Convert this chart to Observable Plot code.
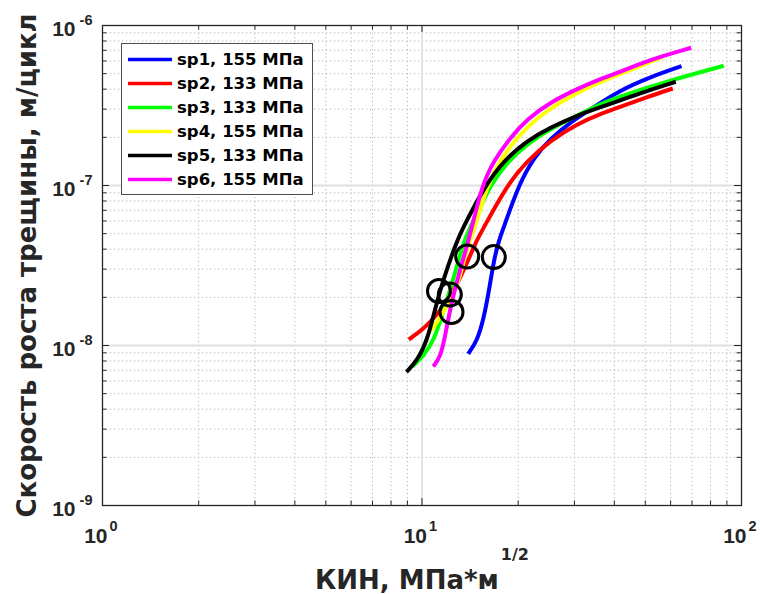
<!DOCTYPE html>
<html>
<head>
<meta charset="utf-8">
<script src="https://cdn.jsdelivr.net/npm/d3@7"></script>
<script src="https://cdn.jsdelivr.net/npm/@observablehq/plot@0.6"></script>
<style>
  body { margin: 0; background: #fff; }
  svg { display: block; }
</style>
</head>
<body>
<div id="chart"></div>
<script>
// Fatigue crack growth rate da/dN vs stress intensity factor range (log-log)
const seriesNames = ["sp1, 155 МПа", "sp2, 133 МПа", "sp3, 133 МПа", "sp4, 155 МПа", "sp5, 133 МПа", "sp6, 155 МПа"];
const seriesColors = ["#0000ff", "#ff0000", "#00ff00", "#ffff00", "#000000", "#ff00ff"];

// K, МПа*м^1/2
const sp1K = [13.95, 14.89, 15.61, 16.19, 16.78, 17.39, 18.25, 20.09, 22.39, 25.25, 29.16, 34.49, 41.59, 51.91, 64.9];
const sp2K = [9.09, 10.13, 11.16, 12.28, 13.52, 14.81, 15.43, 18.48, 21.35, 25.25, 30.60, 36.21, 41.59, 50.07, 60.95];
const sp3K = [9.34, 10.13, 10.89, 11.70, 12.58, 13.39, 13.98, 14.92, 16.39, 18.48, 21.35, 25.25, 30.60, 36.21, 41.59, 57.14, 88.0];
const sp4K = [10.58, 11.43, 12.28, 13.04, 13.52, 14.01, 14.55, 16.00, 17.61, 19.86, 22.94, 27.14, 32.89, 41.59, 56.60];
const sp5K = [8.94, 9.66, 10.38, 11.02, 11.70, 12.89, 13.29, 15.81, 18.03, 21.35, 25.25, 30.60, 36.21, 41.59, 50.07, 62.28];
const sp6K = [10.84, 11.43, 11.85, 12.28, 13.04, 13.98, 14.24, 15.43, 16.78, 18.92, 21.35, 25.25, 30.60, 36.21, 41.59, 50.69, 69.6];

// da/dN, м/цикл
const sp1V = [8.87e-9, 1.07e-8, 1.48e-8, 2.18e-8, 3.40e-8, 4.53e-8, 5.87e-8, 1.01e-7, 1.50e-7, 1.96e-7, 2.49e-7, 3.09e-7, 3.93e-7, 4.77e-7, 5.57e-7];
const sp2V = [1.09e-8, 1.27e-8, 1.56e-8, 2.02e-8, 2.94e-8, 4.53e-8, 5.23e-8, 1.01e-7, 1.43e-7, 1.91e-7, 2.43e-7, 2.81e-7, 3.09e-7, 3.55e-7, 4.04e-7];
const sp3V = [7.39e-9, 8.66e-9, 1.07e-8, 1.65e-8, 2.66e-8, 4.22e-8, 5.23e-8, 6.68e-8, 1.01e-7, 1.40e-7, 1.82e-7, 2.26e-7, 2.74e-7, 3.24e-7, 3.60e-7, 4.42e-7, 5.60e-7];
const sp4V = [1.22e-8, 1.50e-8, 1.91e-8, 2.55e-8, 3.40e-8, 4.40e-8, 5.23e-8, 1.01e-7, 1.45e-7, 2.00e-7, 2.66e-7, 3.34e-7, 4.10e-7, 4.97e-7, 6.35e-7];
const sp5V = [6.83e-9, 8.06e-9, 1.07e-8, 1.73e-8, 2.66e-8, 4.53e-8, 5.23e-8, 1.01e-7, 1.43e-7, 1.91e-7, 2.31e-7, 2.74e-7, 3.09e-7, 3.40e-7, 3.87e-7, 4.45e-7];
const sp6V = [7.39e-9, 8.45e-9, 1.18e-8, 1.74e-8, 2.81e-8, 4.53e-8, 5.23e-8, 1.01e-7, 1.43e-7, 2.00e-7, 2.61e-7, 3.32e-7, 4.02e-7, 4.64e-7, 5.11e-7, 6.04e-7, 7.26e-7];

// Transition points (circled)
const markerK = [13.85, 16.78, 11.30, 12.22, 12.37];
const markerV = [3.60e-8, 3.57e-8, 2.19e-8, 2.08e-8, 1.62e-8];

// Axis decades (exponents of 10)
const xTickExponents = [0, 1, 2];
const yTickExponents = [-9, -8, -7, -6];

const xTitle = "КИН, МПа*м";
const xTitleSup = "1/2";
const yTitle = "Скорость роста трещины, м/цикл";

const allK = [sp1K, sp2K, sp3K, sp4K, sp5K, sp6K];
const allV = [sp1V, sp2V, sp3V, sp4V, sp5V, sp6V];
const rows = [];
allK.forEach((ks, i) => ks.forEach((k, j) => rows.push({series: seriesNames[i], k, v: allV[i][j]})));
const markers = markerK.map((k, i) => ({k, v: markerV[i]}));

// decade and minor positions
const xMajor = xTickExponents.map(e => 10 ** e);
const yMajor = yTickExponents.map(e => 10 ** e);
const minorOf = majors => majors.slice(0, -1).flatMap(d => d3.range(2, 10).map(m => m * d));
const xMinor = minorOf(xMajor);
const yMinor = minorOf(yMajor);

const W = 760, H = 594;
const mL = 102, mR = 19, mT = 25, mB = 89;
const frameW = W - mL - mR, frameH = H - mT - mB;
const ink = "#262626";
const tickFont = "Liberation Sans, Arial, sans-serif";
const labelFont = "DejaVu Sans, Verdana, sans-serif";
const majorLen = 7, minorLen = 4.5;

const chart = Plot.plot({
  width: W,
  height: H,
  marginLeft: mL,
  marginRight: mR,
  marginTop: mT,
  marginBottom: mB,
  x: {type: "log", domain: [1, 100], axis: null},
  y: {type: "log", domain: [1e-9, 1e-6], axis: null},
  color: {domain: seriesNames, range: seriesColors},
  style: {background: "#fff", overflow: "visible"},
  marks: [
    // minor grid (dotted)
    Plot.ruleX(xMinor, {stroke: "#b4b4b4", strokeWidth: 1, strokeDasharray: "1.2,2.8"}),
    Plot.ruleY(yMinor, {stroke: "#b4b4b4", strokeWidth: 1, strokeDasharray: "1.2,2.8"}),
    // major grid
    Plot.ruleX(xMajor.slice(1, -1), {stroke: "#e0e0e0", strokeWidth: 1.8}),
    Plot.ruleY(yMajor.slice(1, -1), {stroke: "#e0e0e0", strokeWidth: 1.8}),
    // curves
    Plot.line(rows, {x: "k", y: "v", z: "series", stroke: "series", strokeWidth: 4, curve: "basis", strokeLinecap: "butt"}),
    // circled points
    Plot.dot(markers, {x: "k", y: "v", r: 11.5, stroke: "#000", strokeWidth: 3, fill: "none"}),
    // inward ticks on all four sides
    Plot.tickX(xMajor, {x: d => d, insetTop: frameH - majorLen, stroke: ink}),
    Plot.tickX(xMinor, {x: d => d, insetTop: frameH - minorLen, stroke: ink}),
    Plot.tickX(xMajor, {x: d => d, insetBottom: frameH - majorLen, stroke: ink}),
    Plot.tickX(xMinor, {x: d => d, insetBottom: frameH - minorLen, stroke: ink}),
    Plot.tickY(yMajor, {y: d => d, insetRight: frameW - majorLen, stroke: ink}),
    Plot.tickY(yMinor, {y: d => d, insetRight: frameW - minorLen, stroke: ink}),
    Plot.tickY(yMajor, {y: d => d, insetLeft: frameW - majorLen, stroke: ink}),
    Plot.tickY(yMinor, {y: d => d, insetLeft: frameW - minorLen, stroke: ink}),
    Plot.frame({stroke: ink, strokeWidth: 1.3}),
    // x tick labels: 10^e
    Plot.text(xTickExponents, {x: e => 10 ** e, frameAnchor: "bottom", text: () => "10", dx: 5, dy: 37,
      textAnchor: "end", lineAnchor: "bottom", fontSize: 21, fontWeight: "bold", fontFamily: tickFont, fill: ink}),
    Plot.text(xTickExponents, {x: e => 10 ** e, frameAnchor: "bottom", text: e => String(e), dx: 7, dy: 25,
      textAnchor: "start", lineAnchor: "bottom", fontSize: 14.5, fontWeight: "bold", fontFamily: tickFont, fill: ink}),
    // y tick labels: 10^e
    Plot.text(yTickExponents, {y: e => 10 ** e, frameAnchor: "left", text: () => "10", dx: -27, dy: 10,
      textAnchor: "end", lineAnchor: "bottom", fontSize: 21, fontWeight: "bold", fontFamily: tickFont, fill: ink}),
    Plot.text(yTickExponents, {y: e => 10 ** e, frameAnchor: "left", text: e => String(e), dx: -10, dy: -1,
      textAnchor: "end", lineAnchor: "bottom", fontSize: 14.5, fontWeight: "bold", fontFamily: tickFont, fill: ink}),
    // axis titles
    Plot.text([xTitle], {frameAnchor: "bottom", text: d => d, dy: 83, textAnchor: "middle", lineAnchor: "bottom",
      fontSize: 26, fontWeight: "bold", fontFamily: labelFont, fill: ink}),
    Plot.text([yTitle], {frameAnchor: "left", text: d => d, dx: -66.5, rotate: -90, textAnchor: "middle", lineAnchor: "bottom",
      fontSize: 26, fontWeight: "bold", fontFamily: labelFont, fill: ink})
  ]
});

const svg = d3.select(chart);

// superscript exponent of the x title
svg.selectAll("text").filter(function () { return this.textContent === xTitle; })
  .append("tspan").attr("dx", 2).attr("dy", -29).attr("font-size", 16).text(xTitleSup);

// legend box in the upper-left corner of the axes
const lg = svg.append("g").attr("font-family", labelFont).attr("font-weight", "bold").attr("font-size", 16.5)
  .attr("text-anchor", "start");
lg.append("rect").attr("x", 121.5).attr("y", 43.5).attr("width", 191).attr("height", 151)
  .attr("fill", "#fff").attr("stroke", "#4d4d4d").attr("stroke-width", 1);
seriesNames.forEach((name, i) => {
  const cy = 59.5 + 24 * i;
  lg.append("line").attr("x1", 128).attr("x2", 172).attr("y1", cy).attr("y2", cy)
    .attr("stroke", seriesColors[i]).attr("stroke-width", 3.5);
  lg.append("text").attr("x", 177).attr("y", cy).attr("dy", "0.36em").attr("fill", "#000").text(name);
});

document.getElementById("chart").appendChild(chart);
</script>
</body>
</html>
